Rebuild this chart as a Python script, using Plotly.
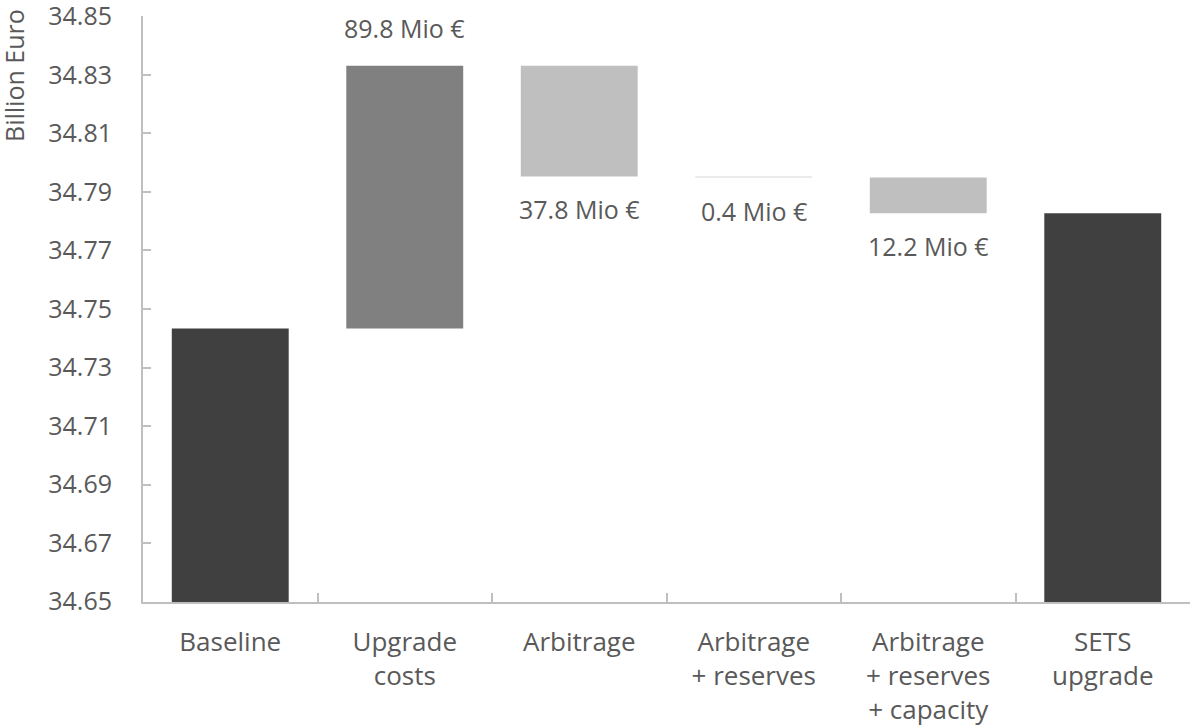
import plotly.graph_objects as go

categories = ["Baseline", "Upgrade<br>costs", "Arbitrage", "Arbitrage<br>+ reserves",
              "Arbitrage<br>+ reserves<br>+ capacity", "SETS<br>upgrade"]
baseline_value = 34.7433          # billion euro
changes_mio = [89.8, -37.8, -0.4, -12.2]   # million euro
change_labels = ["89.8 Mio €", "37.8 Mio €", "0.4 Mio €", "12.2 Mio €"]
y_ticks = [34.65, 34.67, 34.69, 34.71, 34.73, 34.75, 34.77, 34.79, 34.81, 34.83, 34.85]

C_TOTAL = "#404040"
C_UP = "#808080"
C_DOWN = "#BFBFBF"
C_TINY = "#EBEBEB"   # hairline bar renders very faint in the reference
TXT = "#595959"
FONT = "Open Sans"

# build waterfall geometry
bases, heights, colors = [0], [baseline_value], [C_TOTAL]
level = baseline_value
for ch in changes_mio:
    d = ch / 1000.0
    bases.append(level); heights.append(d)
    if d > 0:
        colors.append(C_UP)
    elif abs(ch) < 1:
        colors.append(C_TINY)
    else:
        colors.append(C_DOWN)
    level = level + d
bases.append(0); heights.append(level); colors.append(C_TOTAL)

fig = go.Figure()
fig.add_trace(go.Bar(x=categories, y=heights, base=bases, marker_color=colors,
                     marker_line_width=0, width=0.67, hoverinfo="skip"))

annotations = []
lvl = baseline_value
for i, (ch, lab) in enumerate(zip(changes_mio, change_labels)):
    d = ch / 1000.0
    end = lvl + d
    lvl = end
    annotations.append(dict(x=categories[i + 1], y=end, xref="x", yref="y", text=lab,
                            showarrow=False, yanchor="middle",
                            yshift=38 if d > 0 else -33,
                            font=dict(family=FONT, size=25, color=TXT)))

annotations.append(dict(x=0, y=1 - 60 / 586, xref="paper", yref="paper", xshift=-129,
                        text="Billion Euro", textangle=-90, showarrow=False,
                        xanchor="center", yanchor="middle",
                        font=dict(family=FONT, size=25, color=TXT)))

fig.update_layout(
    width=1194, height=726,
    margin=dict(l=143, r=4, t=16, b=124),
    paper_bgcolor="white", plot_bgcolor="white",
    showlegend=False,
    annotations=annotations,
    font=dict(family=FONT, size=25, color=TXT),
)
fig.update_xaxes(type="category", showline=True, linecolor="#BFBFBF", linewidth=2,
                 ticks="inside", tickson="boundaries", ticklen=9, tickcolor="#BFBFBF",
                 tickwidth=2, showgrid=False, tickfont=dict(family=FONT, size=26, color=TXT),
                 ticklabelstandoff=16, automargin=False, ticklabeloverflow="allow")
fig.update_yaxes(range=[34.6499, 34.8501], tickvals=y_ticks,
                 ticktext=[f"{v:.2f}" for v in y_ticks],
                 showline=True, linecolor="#BFBFBF", linewidth=2, ticks="inside",
                 ticklen=8, tickcolor="#BFBFBF", tickwidth=2, showgrid=False,
                 zeroline=False, tickfont=dict(family=FONT, size=25, color=TXT),
                 ticklabelstandoff=24, automargin=False, ticklabeloverflow="allow")

fig.write_html("out.html", config={"displayModeBar": False},
               post_script="document.body.style.margin='0';document.body.style.overflow='hidden';")
